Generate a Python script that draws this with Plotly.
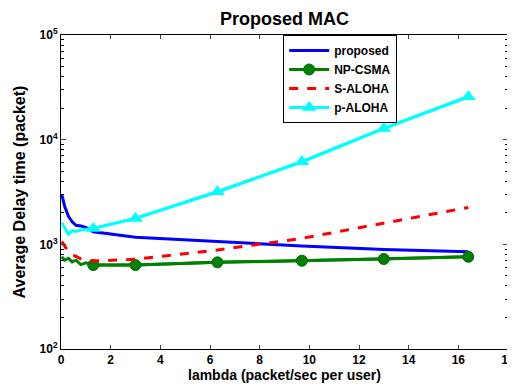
import plotly.graph_objects as go

lam = [0.03, 0.15, 0.3, 0.45, 0.6, 0.8, 1.0, 1.3, 3.0, 6.3, 9.7, 13.0, 16.4]
proposed = [3000, 2300, 1850, 1640, 1520, 1500, 1450, 1320, 1170, 1060, 964, 895, 849]
np_csma = [760, 705, 735, 680, 705, 640, 665, 634, 634, 673, 697, 724, 760]
s_aloha = [1060, 960, 850, 800, 770, 725, 705, 692, 720, 883, 1140, 1600, 2250]
p_aloha = [1610, 1450, 1250, 1350, 1330, 1370, 1390, 1420, 1770, 3180, 6150, 12800, 25700]

x_ticks = list(range(0, 19, 2))
y_decades = [100, 1000, 10000, 100000]
y_decade_text = ["10<sup>2</sup>", "10<sup>3</sup>", "10<sup>4</sup>", "10<sup>5</sup>"]

FONT = "Liberation Sans, Arial, sans-serif"
MK = 7  # first sample index that carries a marker

# unlabelled minor log ticks (2..9 multiples of each decade)
y_minor = [d * m for d in y_decades[:-1] for m in range(2, 10)]

GREEN = "rgb(0,128,0)"
CYAN = "rgb(0,255,255)"

fig = go.Figure()
fig.add_trace(go.Scatter(x=lam, y=proposed, mode="lines", name="proposed",
                         line=dict(color="rgb(0,0,255)", width=3)))
fig.add_trace(go.Scatter(x=lam, y=np_csma, mode="lines", name="NP-CSMA",
                         legendgroup="np", showlegend=False,
                         line=dict(color=GREEN, width=3)))
fig.add_trace(go.Scatter(x=lam[MK:], y=np_csma[MK:], mode="lines+markers", name="NP-CSMA",
                         legendgroup="np",
                         line=dict(color=GREEN, width=3),
                         marker=dict(symbol="circle", size=11, color=GREEN,
                                     line=dict(color="rgb(0,110,0)", width=1))))
fig.add_trace(go.Scatter(x=lam, y=s_aloha, mode="lines", name="S-ALOHA",
                         line=dict(color="rgb(255,0,0)", width=3, dash="dash")))
fig.add_trace(go.Scatter(x=lam, y=p_aloha, mode="lines", name="p-ALOHA",
                         legendgroup="pa", showlegend=False,
                         line=dict(color=CYAN, width=3)))
fig.add_trace(go.Scatter(x=lam[MK:], y=p_aloha[MK:], mode="lines+markers", name="p-ALOHA",
                         legendgroup="pa",
                         line=dict(color=CYAN, width=3),
                         marker=dict(symbol="triangle-up", size=13, color=CYAN)))

# page has an 8px body margin; figure is sized/offset to compensate
fig.update_layout(
    width=507, height=378,
    margin=dict(l=53, r=7, t=27, b=37),
    paper_bgcolor="white", plot_bgcolor="white",
    font=dict(family=FONT, size=12, color="black", weight="bold"),
    title=dict(text="Proposed MAC", x=0.5, xref="paper", xanchor="center",
               y=0.973, yref="container", yanchor="middle",
               font=dict(family=FONT, size=18, color="black", weight="bold")),
    showlegend=True,
    legend=dict(x=0.497, y=1.0, xanchor="left", yanchor="top",
                bgcolor="white", bordercolor="black", borderwidth=1,
                font=dict(family=FONT, size=12, color="black", weight="bold"),
                tracegroupgap=0, itemwidth=40),
)
fig.update_xaxes(range=[0, 18], tickvals=x_ticks, ticks="inside", ticklen=4,
                 showline=True, linecolor="black", linewidth=1, mirror="ticks",
                 showgrid=False, zeroline=False, automargin=False,
                 tickfont=dict(family=FONT, size=12, color="black", weight="bold"),
                 title=dict(text="lambda (packet/sec per user)", standoff=0,
                            font=dict(family=FONT, size=14, color="black", weight="bold")))
fig.update_yaxes(type="log", range=[2, 5], tickvals=y_decades, ticktext=y_decade_text,
                 ticks="inside", ticklen=5,
                 minor=dict(tickvals=y_minor, ticks="inside", ticklen=3,
                            tickcolor="black", showgrid=False),
                 showline=True, linecolor="black", linewidth=1, mirror="ticks",
                 showgrid=False, zeroline=False, automargin=False,
                 tickfont=dict(family=FONT, size=12, color="black", weight="bold"),
                 title=dict(text="Average Delay time (packet)", standoff=9,
                            font=dict(family=FONT, size=16, color="black", weight="bold")))

fig.write_html("out.html")
